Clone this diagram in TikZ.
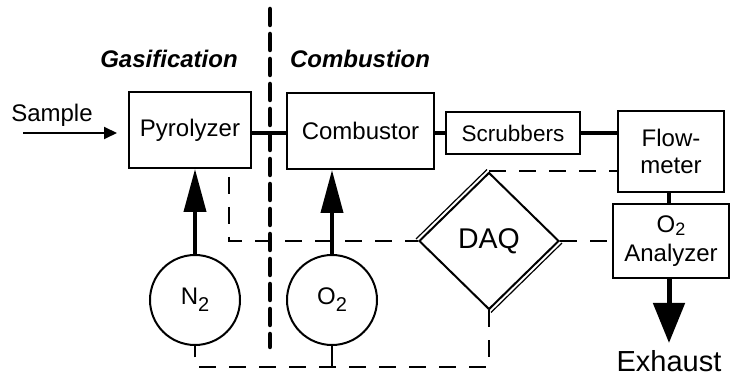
\documentclass[tikz,border=0pt]{standalone}
\usepackage{fontspec}
\setmainfont{Liberation Sans}
\usetikzlibrary{arrows.meta,shapes.geometric,calc}
\newcommand\gassub[1]{\raisebox{-7pt}{\fontsize{20}{20}\selectfont #1}}
\newcommand\anasub[1]{\raisebox{-3pt}{\fontsize{18}{18}\selectfont #1}}
\tikzset{
  box/.style={draw,line width=2pt,inner sep=0pt,font=\fontsize{24}{28}\selectfont,align=center},
  gas/.style={draw,circle,line width=2pt,minimum size=90pt,inner sep=0pt,font=\fontsize{24}{28}\selectfont},
  pipe/.style={line width=4pt},
  feed/.style={line width=4pt,-{Triangle[length=43pt,width=22pt]}},
  sig/.style={line width=2pt,dash pattern=on 17pt off 13pt},
  divider/.style={line width=4.5pt,dash pattern=on 16pt off 9pt,line cap=round},
  lbl/.style={font=\fontsize{24}{28}\selectfont,inner sep=0pt},
}
\begin{document}
\begin{tikzpicture}[x=1pt,y=-1pt]
\useasboundingbox (0,0) rectangle (732,382);
% boxes
\node[box,minimum width=122pt,minimum height=76pt] (pyro) at (190,130) {Pyrolyzer};
\node[box,minimum width=147pt,minimum height=76pt] (comb) at (360.5,131) {Combustor};
\node[box,minimum width=134pt,minimum height=42pt,font=\fontsize{22.5}{26}\selectfont] (scrub) at (513,133) {Scrubbers};
\node[box,minimum width=106pt,minimum height=81pt] (flow) at (671,151.5) {Flow-\\[-1pt]meter};
\node[box,minimum width=116pt,minimum height=74pt] (ana) at (671,241) {O\anasub{2}\\[1pt]Analyzer};
\node[draw,diamond,line width=2pt,inner sep=0pt,minimum width=140pt,minimum height=137pt,font=\fontsize{28.5}{32}\selectfont] (daq) at (489,241) {DAQ};
\draw[line width=1.2pt] ([shift={(-2,-2)}]daq.north) -- ([shift={(-2,-2)}]daq.west);
\draw[line width=1.2pt] ([shift={(2,2)}]daq.east) -- ([shift={(2,2)}]daq.south);
\node[gas] (n2) at (195,300) {N\gassub{2}};
\node[gas] (o2) at (332,300) {O\gassub{2}};
% labels
\node[lbl,font=\fontsize{24}{28}\selectfont\bfseries\itshape] (lgas) at (169,59) {Gasification};
\node[lbl,font=\fontsize{24}{28}\selectfont\bfseries\itshape] (lcomb) at (360,59) {Combustion};
\node[lbl] (sample) at (52,115) {Sample};
\node[lbl,font=\fontsize{29}{32}\selectfont] (exh) at (669,361) {Exhaust};
% divider
\coordinate (dtop) at (270,9);
\coordinate (dbot) at (270,347);
\draw[divider] (dtop) -- (dbot);
% sample arrow
\coordinate (sstart) at (23,133);
\coordinate (send) at (117,133);
\draw[line width=2pt,-{Triangle[length=13pt,width=12pt]}] (sstart) -- (send);
% thick pipes
\draw[pipe] (pyro.east |- scrub.west) -- (comb.west |- scrub.west);
\draw[pipe] (comb.east |- scrub.west) -- (scrub.west);
\draw[pipe] (scrub.east) -- (scrub.east -| flow.west);
\draw[pipe] ([xshift=-2pt]flow.south) -- ([xshift=-2pt]ana.north);
% feeds
\draw[feed] (n2.north) -- (n2.north |- pyro.south);
\draw[feed] (o2.north) -- (o2.north |- comb.south);
% exhaust
\draw[line width=5pt,-{Triangle[length=40pt,width=31pt]}] ([xshift=-2pt]ana.south) -- ([xshift=-2pt]ana.south |- 0,343);
% signal lines
\coordinate (pyrotap) at (229,177);
\draw[sig] (pyrotap) -- (pyrotap |- daq.west) -- (daq.west);
\draw[sig] (daq.east) -- (ana.west);
\draw[sig] (daq.north) -- (daq.north -| flow.west);
\coordinate (botright) at (489,367);
\draw[sig] (daq.south) -- (botright) -- (botright -| n2.south) -- (n2.south);
\draw[line width=2pt] (o2.south) -- (o2.south |- botright);
\end{tikzpicture}
\end{document}
